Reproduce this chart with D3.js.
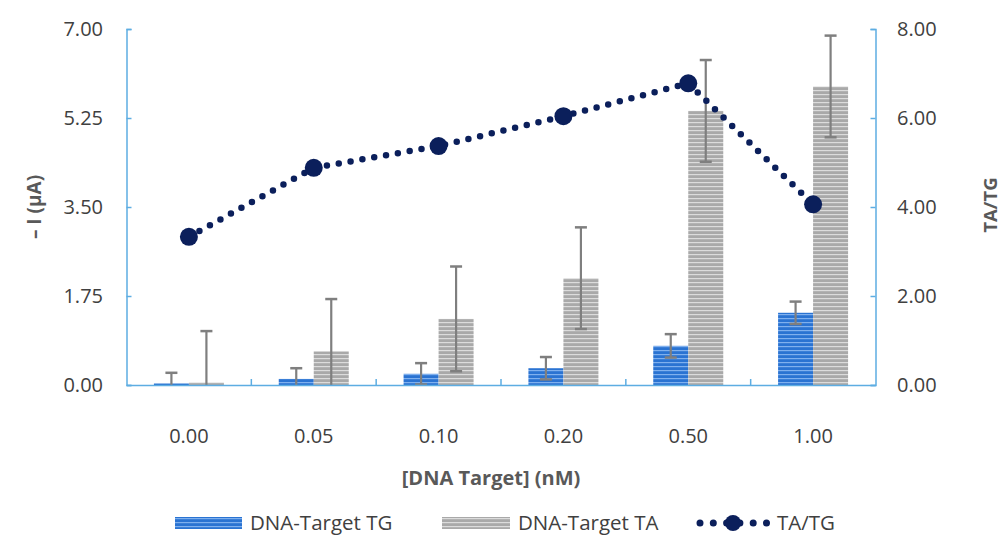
<!DOCTYPE html>
<html><head><meta charset="utf-8">
<script src="https://cdn.jsdelivr.net/npm/d3@7"></script>
<style>body{margin:0;background:#fff;} text{font-family:"Open Sans",sans-serif;}</style>
</head><body>
<svg id="c" width="1003" height="540"></svg>
<script>
const categories = ["0.00","0.05","0.10","0.20","0.50","1.00"];
const tgValues = [0.03, 0.12, 0.22, 0.33, 0.77, 1.42];
const tgErrors = [0.21, 0.21, 0.21, 0.22, 0.23, 0.22];
const taValues = [0.05, 0.66, 1.30, 2.10, 5.39, 5.87];
const taErrors = [1.01, 1.03, 1.03, 1.00, 1.00, 1.00];
const ratioValues = [3.33, 4.88, 5.37, 6.04, 6.78, 4.06];
const leftTicks = [0, 1.75, 3.5, 5.25, 7];
const rightTicks = [0, 2, 4, 6, 8];
const seriesNames = ["DNA-Target TG","DNA-Target TA","TA/TG"];

const svg = d3.select("#c");
const L = 126.5, R = 875.5, T = 29, B = 385;
const axisColor = "#5dade2", textColor = "#404040", titleColor = "#595959";
const lineColor = "#0b1f5b", errColor = "#7f7f7f";

const defs = svg.append("defs");
function stripe(id, base, light){
  const p = defs.append("pattern").attr("id", id).attr("patternUnits","userSpaceOnUse")
    .attr("width", 8).attr("height", 4);
  p.append("rect").attr("width",8).attr("height",4).attr("fill", base);
  p.append("rect").attr("y",2).attr("width",8).attr("height",1.2).attr("fill", light);
}
stripe("pTG", "#2a73d2", "#7fb0ee");
stripe("pTA", "#a9a9a9", "#dcdcdc");

const x0 = d3.scaleBand().domain(categories).range([L, R]).padding(0);
const groupW = 70;
const x1 = d3.scaleBand().domain(["TG","TA"]).range([0, groupW]).padding(0);
const yL = d3.scaleLinear().domain([0, 7]).range([B, T]);
const yR = d3.scaleLinear().domain([0, 8]).range([B, T]);
const gOff = (x0.bandwidth() - groupW) / 2;

// bars
const bars = [
  {key:"TG", vals: tgValues, errs: tgErrors, fill:"url(#pTG)"},
  {key:"TA", vals: taValues, errs: taErrors, fill:"url(#pTA)"}
];
bars.forEach(s => {
  svg.append("g").selectAll("rect").data(categories).join("rect")
    .attr("x", d => x0(d) + gOff + x1(s.key))
    .attr("width", x1.bandwidth())
    .attr("y", (d,i) => yL(s.vals[i]))
    .attr("height", (d,i) => B - yL(s.vals[i]))
    .attr("fill", s.fill);
});
// error bars
bars.forEach(s => {
  const g = svg.append("g").attr("stroke", errColor).attr("stroke-width", 2.2);
  categories.forEach((c,i) => {
    const cx = x0(c) + gOff + x1(s.key) + x1.bandwidth()/2;
    const hi = s.vals[i] + s.errs[i];
    const loRaw = s.vals[i] - s.errs[i];
    const lo = Math.max(0, loRaw);
    g.append("line").attr("x1", cx).attr("x2", cx).attr("y1", yL(lo)).attr("y2", yL(hi));
    g.append("line").attr("x1", cx-6).attr("x2", cx+6).attr("y1", yL(hi)).attr("y2", yL(hi)).attr("stroke-width",2.5);
    if (loRaw > 0) g.append("line").attr("x1", cx-6).attr("x2", cx+6).attr("y1", yL(lo)).attr("y2", yL(lo)).attr("stroke-width",2.5);
  });
});

// axes
const axL = svg.append("g").attr("transform", `translate(${L},0)`)
  .call(d3.axisRight(yL).tickValues(leftTicks).tickSize(5).tickFormat(""));
const axR = svg.append("g").attr("transform", `translate(${R},0)`)
  .call(d3.axisLeft(yR).tickValues(rightTicks).tickSize(5).tickFormat(""));
const axB = svg.append("g").attr("transform", `translate(0,${B})`)
  .call(d3.axisTop(x0).tickSize(0).tickFormat(""));
[axL, axR, axB].forEach(a => { a.selectAll("path,line").attr("stroke", axisColor).attr("stroke-width", 1.5); });
svg.append("g").selectAll("line").data(categories.slice(1)).join("line")
  .attr("x1", d => x0(d)).attr("x2", d => x0(d)).attr("y1", B).attr("y2", B-6)
  .attr("stroke", axisColor).attr("stroke-width", 1.5);

// tick labels
svg.append("g").selectAll("text").data(leftTicks).join("text")
  .attr("x", 103).attr("y", d => yL(d)).attr("dy","0.36em").attr("text-anchor","end")
  .attr("font-size", 20).attr("fill", textColor).text(d => d.toFixed(2));
svg.append("g").selectAll("text").data(rightTicks).join("text")
  .attr("x", 897).attr("y", d => yR(d)).attr("dy","0.36em").attr("text-anchor","start")
  .attr("font-size", 20).attr("fill", textColor).text(d => d.toFixed(2));
svg.append("g").selectAll("text").data(categories).join("text")
  .attr("x", d => x0(d) + x0.bandwidth()/2).attr("y", 436).attr("dy","0.36em").attr("text-anchor","middle")
  .attr("font-size", 20).attr("fill", textColor).text(d => d);

// titles
svg.append("text").attr("transform", `translate(34,207) rotate(-90)`).attr("text-anchor","middle")
  .attr("dy","0.36em").attr("font-size", 19).attr("font-weight","bold").attr("fill", titleColor).text("– I (µA)");
svg.append("text").attr("transform", `translate(990,205) rotate(-90)`).attr("text-anchor","middle")
  .attr("dy","0.36em").attr("font-size", 18.5).attr("font-weight","bold").attr("fill", titleColor).text("TA/TG");
svg.append("text").attr("x", 491).attr("y", 478).attr("text-anchor","middle").attr("dy","0.36em")
  .attr("font-size", 20).attr("font-weight","bold").attr("fill", titleColor).text("[DNA Target] (nM)");

// ratio line
const lineGen = d3.line().x((d,i) => x0(categories[i]) + x0.bandwidth()/2).y(d => yR(d));
svg.append("path").datum(ratioValues).attr("d", lineGen).attr("fill","none")
  .attr("stroke", lineColor).attr("stroke-width", 6.5).attr("stroke-linecap","round").attr("stroke-dasharray","0 12");
svg.append("g").selectAll("circle").data(ratioValues).join("circle")
  .attr("cx", (d,i) => x0(categories[i]) + x0.bandwidth()/2).attr("cy", d => yR(d))
  .attr("r", 9).attr("fill", lineColor);

// legend
const ly = 523;
const lg = svg.append("g");
lg.append("rect").attr("x", 175).attr("y", ly-6).attr("width", 67).attr("height", 12).attr("fill","url(#pTG)");
lg.append("text").attr("x", 250).attr("y", ly).attr("dy","0.36em").attr("font-size", 20.5).attr("fill", textColor).text(seriesNames[0]);
lg.append("rect").attr("x", 442).attr("y", ly-6).attr("width", 68).attr("height", 12).attr("fill","url(#pTA)");
lg.append("text").attr("x", 518).attr("y", ly).attr("dy","0.36em").attr("font-size", 20.5).attr("fill", textColor).text(seriesNames[1]);
lg.append("line").attr("x1", 700).attr("x2", 767).attr("y1", ly).attr("y2", ly)
  .attr("stroke", lineColor).attr("stroke-width", 7).attr("stroke-linecap","round").attr("stroke-dasharray","0 13.3");
lg.append("circle").attr("cx", 733).attr("cy", ly).attr("r", 8).attr("fill", lineColor);
lg.append("text").attr("x", 777).attr("y", ly).attr("dy","0.36em").attr("font-size", 20.5).attr("fill", textColor).text(seriesNames[2]);
</script>
</body></html>
